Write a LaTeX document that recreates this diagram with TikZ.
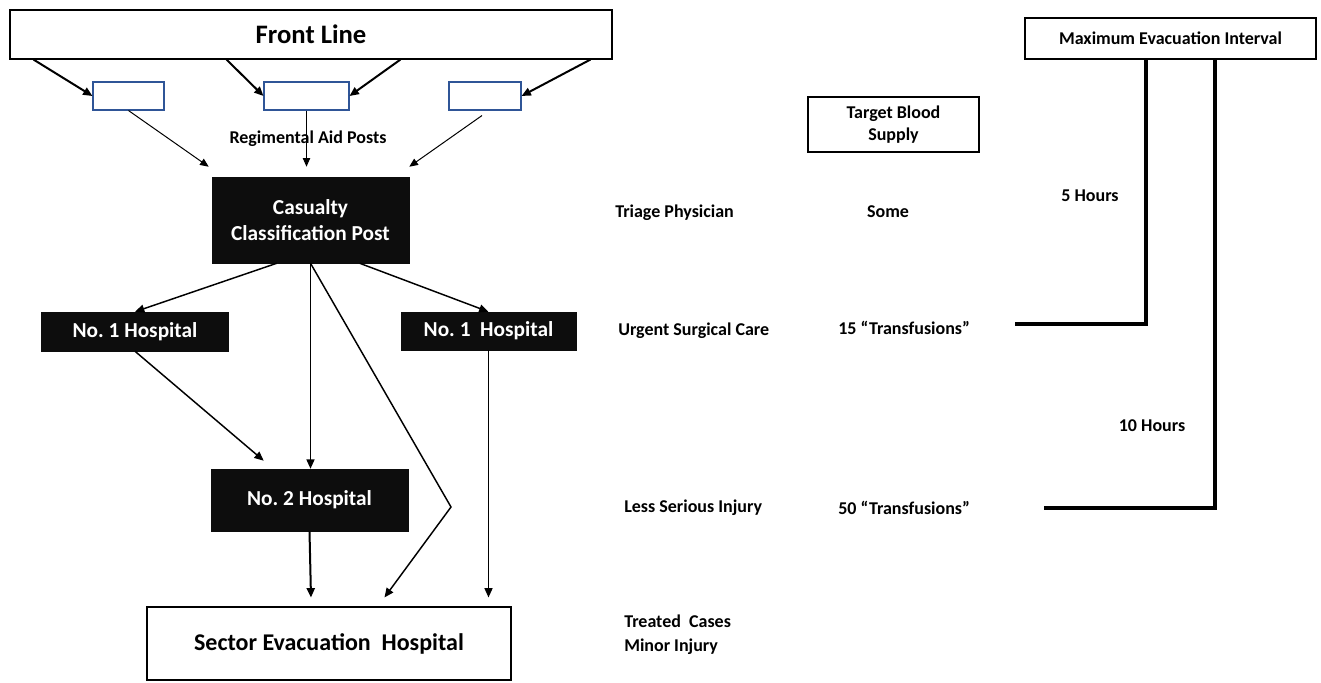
\documentclass[tikz,border=0pt]{standalone}
\usepackage{fontspec}
\setmainfont{Carlito}
\frenchspacing
\usetikzlibrary{arrows.meta}
\definecolor{boxblack}{HTML}{0D0D0D}
\definecolor{rapblue}{HTML}{2F5597}
\tikzset{
  lbl/.style={font=\bfseries\fontsize{13.5}{16}\selectfont, inner sep=0pt},
  whitebox/.style={draw=black, line width=0.8pt, fill=white, font=\bfseries\fontsize{18}{21}\selectfont, inner sep=0pt},
  blackbox/.style={draw=boxblack, fill=boxblack, text=white, font=\bfseries\fontsize{16}{20}\selectfont, inner sep=0pt, align=center},
  rapbox/.style={draw=rapblue, line width=0.8pt, fill=white, inner sep=0pt},
  smallbox/.style={draw=black, font=\bfseries\fontsize{13.5}{17}\selectfont, inner sep=0pt, align=center},
  thickarr/.style={line width=1.5pt, -{Triangle[length=7pt,width=6pt]}},
  midarr/.style={line width=1.1pt, -{Triangle[length=7pt,width=6pt]}},
  thinarr/.style={line width=0.75pt, -{Triangle[length=6.5pt,width=5.5pt]}},
  bracket/.style={line width=2.3pt}
}
\begin{document}
\begin{tikzpicture}[x=0.75pt,y=-0.75pt]
\useasboundingbox[fill=white] (0,0) rectangle (1321,682);

% boxes
\node[whitebox, minimum width=451.5pt, minimum height=36.75pt, font=\bfseries\fontsize{20}{24}\selectfont] (front) at (311,34.5) {Front Line};
\node[rapbox, minimum width=53.25pt, minimum height=21pt] (rap1) at (128.5,96) {};
\node[rapbox, minimum width=63.75pt, minimum height=21pt] (rap2) at (306.5,96) {};
\node[rapbox, minimum width=54pt, minimum height=21pt] (rap3) at (485,96) {};
\node[lbl] (raplbl) at (308,139) {Regimental Aid Posts};

\node[blackbox, minimum width=147.75pt, minimum height=64.5pt] (ccp) at (310.5,220) {Casualty\\Classification Post};
\node[blackbox, minimum width=140pt, minimum height=29.25pt] (no1l) at (135,331.5) {No. 1 Hospital};
\node[blackbox, minimum width=131.25pt, minimum height=28.5pt] (no1r) at (488.5,331) {No. 1\ \ Hospital};
\node[blackbox, minimum width=147.75pt, minimum height=46.5pt] (no2) at (309.5,500) {No. 2 Hospital};
\node[whitebox, minimum width=273pt, minimum height=54.75pt] (seh) at (329,643.5) {Sector Evacuation\ \ Hospital};

% right side
\node[smallbox, line width=1pt, minimum width=128.25pt, minimum height=41.25pt] (target) at (893.5,124.5) {Target Blood\\Supply};
\node[smallbox, line width=0.8pt, minimum width=218.25pt, minimum height=30.75pt] (maxbox) at (1170.5,38.5) {Maximum Evacuation Interval};

\node[lbl, anchor=west] (triage) at (615,213) {Triage Physician};
\node[lbl, anchor=west] (urgent) at (618,331) {Urgent Surgical Care};
\node[lbl, anchor=west] (less) at (624,508) {Less Serious Injury};
\node[lbl, anchor=west, align=left, font=\bfseries\fontsize{13.5}{18}\selectfont] (treated) at (624,635) {Treated\ \ Cases\\Minor Injury};

\node[lbl] (some) at (888,212) {Some};
\node[lbl, anchor=west] (t15) at (838,328) {15 “Transfusions”};
\node[lbl, anchor=west] (t50) at (838,508) {50 “Transfusions”};
\node[lbl] (h5) at (1090,196) {5 Hours};
\node[lbl] (h10) at (1152,426) {10 Hours};

% brackets
\coordinate (b1s) at (1015,324);
\coordinate (b1c) at (1146,324);
\coordinate (b2s) at (1044,508);
\coordinate (b2c) at (1215,508);
\draw[bracket] (b1s) -- (b1c) -- (b1c |- maxbox.south);
\draw[bracket] (b2s) -- (b2c) -- (b2c |- maxbox.south);

% front line to aid posts
\draw[thickarr] ([xshift=18pt]front.south west) -- (rap1.west);
\draw[thickarr] ([xshift=162.75pt]front.south west) -- (rap2.west);
\draw[thickarr] ([xshift=293.25pt]front.south west) -- (rap2.east);
\draw[thickarr] ([xshift=435.75pt]front.south west) -- (rap3.east);

% aid posts to CCP
\coordinate (ccpl) at ([xshift=-2.25pt,yshift=7.5pt]ccp.north west);
\coordinate (ccpm) at ([yshift=7.5pt]ccp.north);
\coordinate (ccpr) at ([yshift=7.5pt]ccp.north east);
\draw[thinarr] (rap1.south) -- (ccpl);
\draw[thinarr] (rap2.south) -- (rap2.south |- ccpm);
\draw[thinarr] ([xshift=-2.25pt,yshift=-3.75pt]rap3.south) -- (ccpr);

% CCP to hospitals
\draw[midarr] ([xshift=48.75pt]ccp.south west) -- (no1l.north);
\draw[midarr] ([xshift=111pt]ccp.south west) -- (no1r.north);
\draw[midarr] (ccp.south) -- (ccp.south |- no2.north);
\coordinate (bend) at (451,507);
\coordinate (sehtop) at ([yshift=6.75pt]seh.north);
\coordinate (sehmid) at ([xshift=178.5pt,yshift=6.75pt]seh.north west);
\draw[midarr] (ccp.south) -- (bend) -- (sehmid);
\coordinate (no2in) at ([xshift=39.75pt,yshift=6pt]no2.north west);
\draw[midarr] (no1l.south) -- (no2in);
\draw[midarr] (no1r.south) -- (no1r.south |- sehtop);
\draw[thickarr] (no2.south) -- ([xshift=-13.5pt]sehtop);

\end{tikzpicture}
\end{document}
